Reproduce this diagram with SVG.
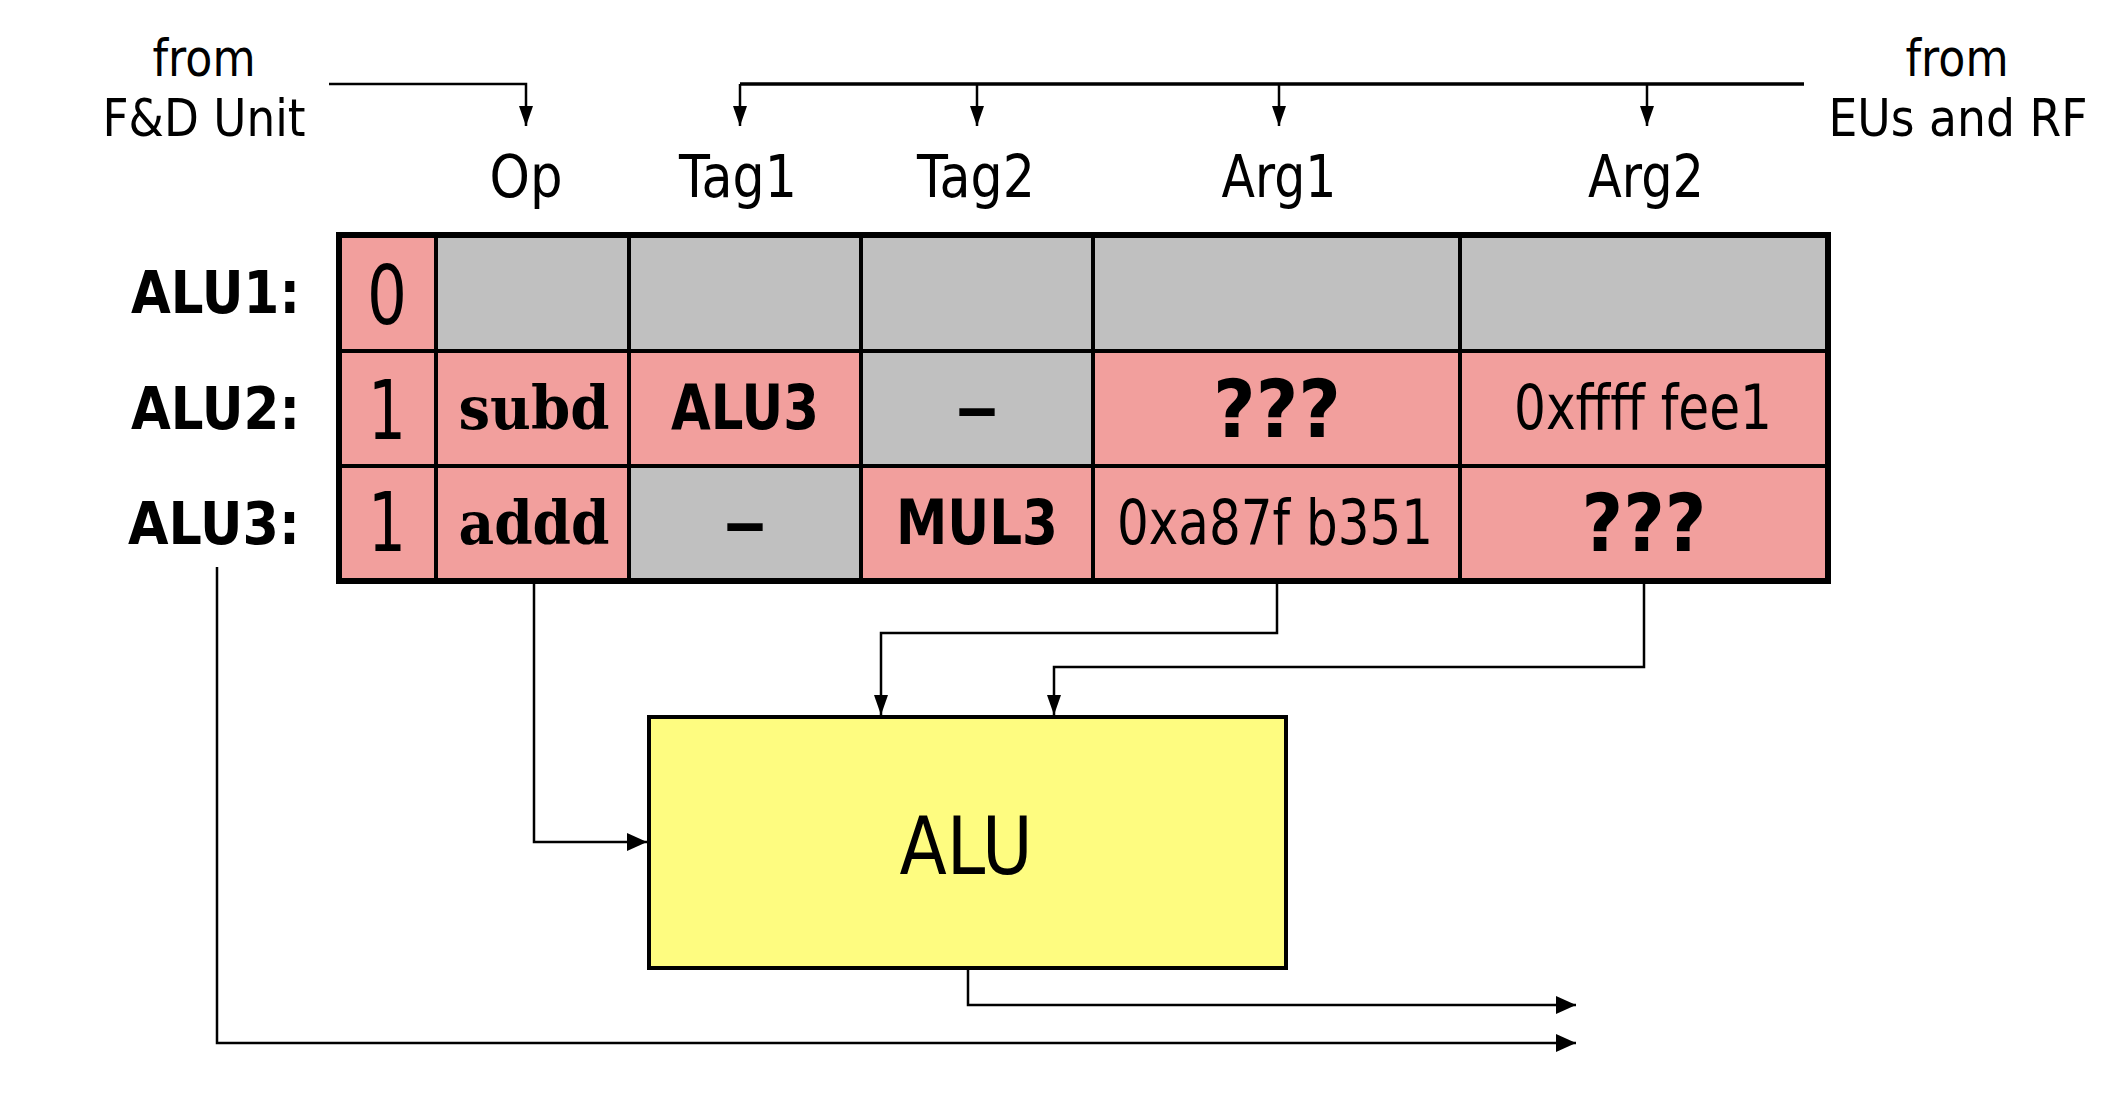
<svg xmlns="http://www.w3.org/2000/svg" width="2116" height="1100" viewBox="0 0 2116 1100">
<defs>
<style>
text{font-family:"DejaVu Sans","Liberation Sans",sans-serif;fill:#000}
.lbl{font-size:51px;text-anchor:middle}
.hdr{font-size:58px;text-anchor:middle}
.row{font-size:59px;font-weight:bold;text-anchor:end}
.dig{font-size:82px;text-anchor:middle}
text.mono{font-family:"DejaVu Serif","Liberation Serif",serif;font-size:60px;font-weight:bold;text-anchor:middle}
.bold{font-size:62px;font-weight:bold;text-anchor:middle}
.q{font-size:80px;font-weight:bold;text-anchor:middle}
.val{font-size:62px;text-anchor:middle}
.pink{fill:#F29F9D;stroke:#000;stroke-width:4}
.gray{fill:#C0C0C0;stroke:#000;stroke-width:4}
.wire{fill:none;stroke:#000;stroke-width:2.5}
.bus{fill:none;stroke:#000;stroke-width:3.5}
</style>
<marker id="arr" markerUnits="userSpaceOnUse" markerWidth="22" markerHeight="16" refX="20" refY="8" orient="auto">
<path d="M0,1 L20,8 L0,15 Z" fill="#000"/>
</marker>
<marker id="arrB" markerUnits="userSpaceOnUse" markerWidth="22" markerHeight="20" refX="20" refY="10" orient="auto">
<path d="M0,1 L20,10 L0,19 Z" fill="#000"/>
</marker>
</defs>
<g id="label-fd">
<text class="lbl" x="204" y="76" textLength="103" lengthAdjust="spacingAndGlyphs">from</text>
<text class="lbl" x="204" y="136" textLength="203" lengthAdjust="spacingAndGlyphs">F&amp;D Unit</text>
</g>
<g id="label-eu">
<text class="lbl" x="1957" y="76" textLength="103" lengthAdjust="spacingAndGlyphs">from</text>
<text class="lbl" x="1958" y="136" textLength="259" lengthAdjust="spacingAndGlyphs">EUs and RF</text>
</g>
<g id="headers">
<text class="hdr" x="526" y="197" textLength="73" lengthAdjust="spacingAndGlyphs">Op</text>
<text class="hdr" x="738" y="197" textLength="118" lengthAdjust="spacingAndGlyphs">Tag1</text>
<text class="hdr" x="976" y="197" textLength="118" lengthAdjust="spacingAndGlyphs">Tag2</text>
<text class="hdr" x="1279" y="197" textLength="115" lengthAdjust="spacingAndGlyphs">Arg1</text>
<text class="hdr" x="1646" y="197" textLength="116" lengthAdjust="spacingAndGlyphs">Arg2</text>
</g>
<g id="row-labels">
<text class="row" x="300" y="313" textLength="169" lengthAdjust="spacingAndGlyphs">ALU1:</text>
<text class="row" x="300" y="429" textLength="169" lengthAdjust="spacingAndGlyphs">ALU2:</text>
<text class="row" x="300" y="544" textLength="172" lengthAdjust="spacingAndGlyphs">ALU3:</text>
</g>
<g id="table">
<rect class="pink" x="339" y="235" width="97" height="116"/>
<rect class="gray" x="436" y="235" width="193" height="116"/>
<rect class="gray" x="629" y="235" width="232" height="116"/>
<rect class="gray" x="861" y="235" width="232" height="116"/>
<rect class="gray" x="1093" y="235" width="367" height="116"/>
<rect class="gray" x="1460" y="235" width="368" height="116"/>
<rect class="pink" x="339" y="351" width="97" height="115"/>
<rect class="pink" x="436" y="351" width="193" height="115"/>
<rect class="pink" x="629" y="351" width="232" height="115"/>
<rect class="gray" x="861" y="351" width="232" height="115"/>
<rect class="pink" x="1093" y="351" width="367" height="115"/>
<rect class="pink" x="1460" y="351" width="368" height="115"/>
<rect class="pink" x="339" y="466" width="97" height="115"/>
<rect class="pink" x="436" y="466" width="193" height="115"/>
<rect class="gray" x="629" y="466" width="232" height="115"/>
<rect class="pink" x="861" y="466" width="232" height="115"/>
<rect class="pink" x="1093" y="466" width="367" height="115"/>
<rect class="pink" x="1460" y="466" width="368" height="115"/>
<rect x="339" y="235" width="1489" height="346" fill="none" stroke="#000" stroke-width="6"/>
<text class="dig" x="387" y="324" textLength="40" lengthAdjust="spacingAndGlyphs">0</text>
<text class="dig" x="387" y="439" textLength="38" lengthAdjust="spacingAndGlyphs">1</text>
<text class="dig" x="387" y="551" textLength="38" lengthAdjust="spacingAndGlyphs">1</text>
<text class="mono" x="534" y="429" textLength="151" lengthAdjust="spacingAndGlyphs">subd</text>
<text class="mono" x="534" y="544" textLength="151" lengthAdjust="spacingAndGlyphs">addd</text>
<text class="bold" x="745" y="429" textLength="148" lengthAdjust="spacingAndGlyphs">ALU3</text>
<text class="bold" x="745" y="544" textLength="45" lengthAdjust="spacingAndGlyphs">–</text>
<text class="bold" x="977" y="429" textLength="45" lengthAdjust="spacingAndGlyphs">–</text>
<text class="bold" x="977" y="544" textLength="162" lengthAdjust="spacingAndGlyphs">MUL3</text>
<text class="q" x="1277" y="437" textLength="128" lengthAdjust="spacingAndGlyphs">???</text>
<text class="val" x="1275" y="544" textLength="316" lengthAdjust="spacingAndGlyphs">0xa87f b351</text>
<text class="val" x="1643" y="429" textLength="258" lengthAdjust="spacingAndGlyphs">0xffff fee1</text>
<text class="q" x="1644" y="551" textLength="125" lengthAdjust="spacingAndGlyphs">???</text>
</g>
<g id="alu">
<rect x="649" y="717" width="637" height="251" fill="#FEFC80" stroke="#000" stroke-width="4"/>
<text x="966" y="874" font-size="80" text-anchor="middle" textLength="133" lengthAdjust="spacingAndGlyphs">ALU</text>
</g>
<g id="connectors">
<path class="wire" d="M329,84 H526 V126" marker-end="url(#arr)"/>
<path class="bus" d="M1804,84 H740"/>
<path class="wire" d="M740,84 V126" marker-end="url(#arr)"/>
<path class="wire" d="M977,84 V126" marker-end="url(#arr)"/>
<path class="wire" d="M1279,84 V126" marker-end="url(#arr)"/>
<path class="wire" d="M1647,84 V126" marker-end="url(#arr)"/>
<path class="wire" d="M534,583 V842 H647" marker-end="url(#arrB)"/>
<path class="wire" d="M1277,583 V633 H881 V715" marker-end="url(#arr)"/>
<path class="wire" d="M1644,583 V667 H1054 V715" marker-end="url(#arr)"/>
<path class="wire" d="M968,970 V1005 H1576" marker-end="url(#arrB)"/>
<path class="wire" d="M217,567 V1043 H1576" marker-end="url(#arrB)"/>
</g>
</svg>
